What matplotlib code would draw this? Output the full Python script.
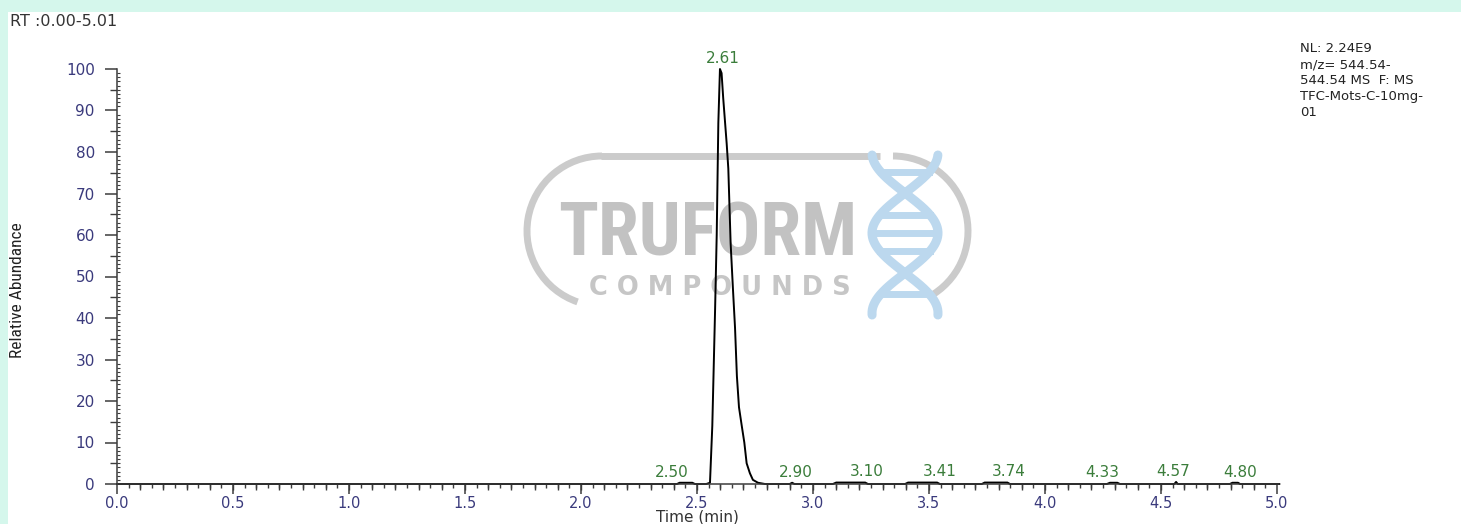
import numpy as np
import matplotlib
matplotlib.use("Agg")
import matplotlib.pyplot as plt
from matplotlib import font_manager
from matplotlib.patches import Arc, Rectangle


def pick_font(names):
    for n in names:
        try:
            font_manager.findfont(n, fallback_to_default=False)
            return n
        except Exception:
            pass
    return "DejaVu Sans"


SANS = "DejaVu Sans"
NARROW = pick_font(["Liberation Sans Narrow", "Arial Narrow", "Roboto Condensed",
                    "Open Sans Condensed", "Roboto"])

# chromatogram (time in min, relative abundance in %)
trace_time = [0.000, 2.414, 2.425, 2.480, 2.491, 2.540, 2.556, 2.566, 2.578, 2.585,
              2.592, 2.599, 2.606, 2.613, 2.628, 2.635, 2.645, 2.655, 2.664, 2.672,
              2.681, 2.693, 2.704, 2.714, 2.728, 2.741, 2.763, 2.793, 2.900, 2.910,
              2.920, 3.086, 3.100, 3.225, 3.237, 3.397, 3.410, 3.535, 3.547, 3.728,
              3.740, 3.838, 3.849, 4.267, 4.280, 4.312, 4.323, 4.558, 4.565, 4.572,
              4.797, 4.808, 4.832, 4.841, 5.010]
trace_abund = [0.0, 0.0, 0.3, 0.3, 0.0, 0.0, 0.3, 14.0, 42.0, 60.0,
               87.0, 100.0, 99.0, 93.0, 82.0, 76.0, 58.0, 47.0, 37.6, 26.0,
               18.5, 14.0, 10.0, 5.0, 2.6, 1.0, 0.3, 0.0, 0.0, 0.3,
               0.0, 0.0, 0.35, 0.35, 0.0, 0.0, 0.35, 0.35, 0.0, 0.0,
               0.35, 0.35, 0.0, 0.0, 0.3, 0.3, 0.0, 0.0, 0.5, 0.0,
               0.0, 0.3, 0.3, 0.0, 0.0]

# labelled peaks
peak_rt = [2.50, 2.61, 2.90, 3.10, 3.41, 3.74, 4.33, 4.57, 4.80]
peak_height = [0.3, 100.0, 0.3, 0.35, 0.35, 0.35, 0.3, 0.5, 0.3]
label_shift_px = [-25, 0, 6, 31, 32, 24, -19, -4, 10]

x_ticks = [0.0, 0.5, 1.0, 1.5, 2.0, 2.5, 3.0, 3.5, 4.0, 4.5, 5.0]
y_ticks = [0, 10, 20, 30, 40, 50, 60, 70, 80, 90, 100]

info_lines = ["NL: 2.24E9", "m/z= 544.54-", "544.54 MS  F: MS", "TFC-Mots-C-10mg-", "01"]

W, H = 1461, 524
fig = plt.figure(figsize=(W / 100, H / 100), dpi=100)
fig.patch.set_facecolor("#d5f7ec")

# background panel + watermark (pixel coordinates, y up)
bg = fig.add_axes([0, 0, 1, 1], zorder=0)
bg.set_xlim(0, W)
bg.set_ylim(0, H)
bg.axis("off")
bg.add_patch(Rectangle((8, 0), W - 8, H - 12, facecolor="white", edgecolor="none"))

wm_gray = "#cbcbcb"
wm_blue = "#bcd8ee"
bg.add_patch(Arc((602, 293), 150, 150, theta1=90, theta2=251, color=wm_gray, lw=5))
bg.plot([601, 880], [368, 368], color=wm_gray, lw=5, solid_capstyle="butt")
bg.add_patch(Arc((893, 293), 150, 150, theta1=-57, theta2=90, color=wm_gray, lw=5))
bg.text(708, 269, "TRUFORM", fontsize=53, fontweight="bold", family=NARROW,
        fontstretch="condensed", color="#c2c2c2", ha="center", va="baseline")
bg.text(720, 236, "C O M P O U N D S", fontsize=18.5, fontweight="bold", family=SANS,
        color="#c6c6c6", ha="center", va="center")
ys = np.linspace(155, 315, 200)
off = 33 * np.cos(np.pi * (ys - 233) / 80)
bg.plot(905 + off, H - ys, color=wm_blue, lw=6.5, solid_capstyle="round")
bg.plot(905 - off, H - ys, color=wm_blue, lw=6.5, solid_capstyle="round")
for yr in [172, 215, 233, 251, 294]:
    o = abs(33 * np.cos(np.pi * (yr - 233) / 80))
    bg.plot([905 - o, 905 + o], [H - yr, H - yr], color=wm_blue, lw=5)

# main axes
ax = fig.add_axes([117 / W, 40 / H, 1162.3 / W, 415 / H], zorder=1)
ax.set_facecolor("none")
ax.plot(trace_time, trace_abund, color="black", lw=1.4, clip_on=False)
ax.set_xlim(0, 5.01)
ax.set_ylim(0, 100)

for s in ["top", "right"]:
    ax.spines[s].set_visible(False)
for s in ["left", "bottom"]:
    ax.spines[s].set_color("#3c3c3c")
    ax.spines[s].set_linewidth(1.1)

tick_color = "#3a3a7c"
ax.set_xticks(x_ticks)
ax.set_xticklabels([f"{v:.1f}" for v in x_ticks])
ax.set_yticks(y_ticks)
ax.set_xticks(np.arange(0, 5.001, 0.05), minor=True)
ax.set_yticks(np.arange(0, 100.1, 1), minor=True)
ax.tick_params(axis="x", which="major", direction="out", length=7, width=1.1,
               color="#3c3c3c", labelcolor=tick_color, labelsize=10.5, pad=1.5)
ax.tick_params(axis="x", which="minor", direction="out", length=3, width=1,
               color="#3c3c3c")
ax.tick_params(axis="y", which="major", direction="out", length=9, width=1.1,
               color="#3c3c3c", labelcolor=tick_color, labelsize=11, pad=7)
ax.tick_params(axis="y", which="minor", direction="in", length=2.5, width=0.8,
               color="#3c3c3c")
for lab in ax.get_xticklabels() + ax.get_yticklabels():
    lab.set_family(SANS)

# medium ticks (0.1 min and 5 %)
sx = ax.secondary_xaxis("bottom")
sx.set_xticks(np.arange(0.1, 5.0, 0.1))
sx.set_xticklabels([])
sx.tick_params(direction="out", length=4.5, width=1, color="#3c3c3c")
sx.spines["bottom"].set_visible(False)
sy = ax.secondary_yaxis("left")
sy.set_yticks(np.arange(5, 100, 10))
sy.set_yticklabels([])
sy.tick_params(direction="out", length=5, width=1, color="#3c3c3c")
sy.spines["left"].set_visible(False)

# peak labels
for rt, h, dx in zip(peak_rt, peak_height, label_shift_px):
    ax.annotate(f"{rt:.2f}", xy=(rt, h), xytext=(dx * 0.72, 4.5),
                textcoords="offset points", ha="center", va="baseline",
                fontsize=11, color="#3b7d3b", family=SANS, annotation_clip=False)

fig.text(697 / W, 1 - 521 / H, "Time (min)", fontsize=11, color="#333333", family=SANS,
         ha="center", va="baseline")
fig.text(18 / W, 1 - 290 / H, "Relative Abundance", rotation=90, ha="center",
         va="center", fontsize=12.5, family=NARROW, fontstretch="condensed",
         color="#222222")
fig.text(10 / W, 1 - 26 / H, "RT :0.00-5.01", fontsize=11.5, family=SANS,
         color="#333333", va="baseline")
for i, line in enumerate(info_lines):
    fig.text(1300 / W, 1 - (52 + 16 * i) / H, line, fontsize=9.5, family=SANS,
             color="#222222", va="baseline")

fig.savefig("out.png", dpi=100, facecolor=fig.get_facecolor())
